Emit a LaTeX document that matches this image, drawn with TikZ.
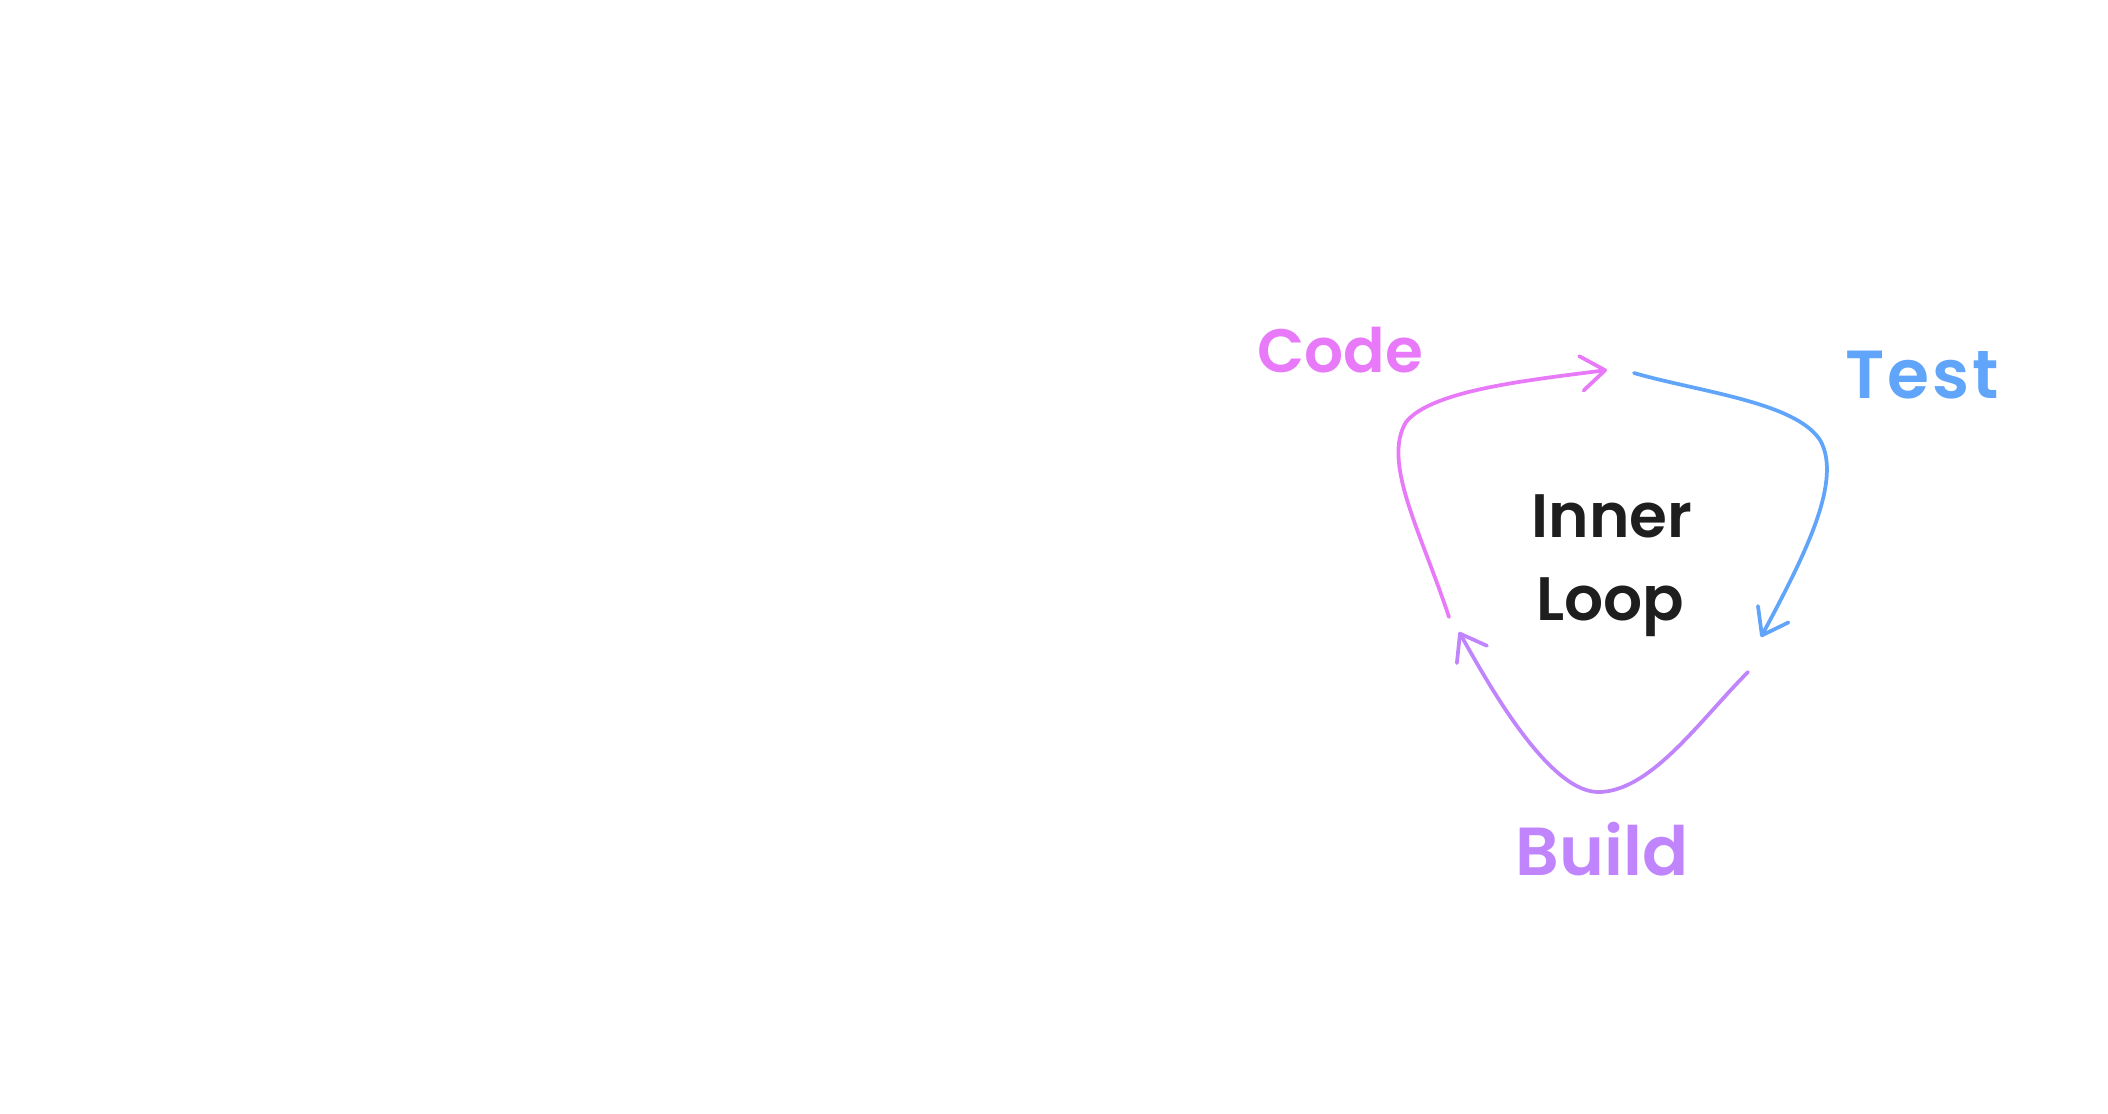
\documentclass[tikz,border=0pt]{standalone}
\usepackage{fontspec}
\setmainfont{Poppins}[BoldFont={Poppins SemiBold}]
\usetikzlibrary{arrows.meta}
\definecolor{cpink}{HTML}{E879F9}
\definecolor{cblue}{HTML}{60A5FA}
\definecolor{cpurple}{HTML}{C084FC}
\definecolor{cink}{HTML}{1E1E1E}
\tikzset{
  lbl/.style={inner sep=0pt, anchor=base, font=\fontsize{46}{56}\selectfont\bfseries},
  biglbl/.style={lbl, font=\fontsize{51}{60}\selectfont\bfseries},
  flow/.style={line width=2.8pt, line cap=round, line join=round,
    -{Straight Barb[length=18pt,width=26pt,round]}}
}
\begin{document}
\begin{tikzpicture}[x=0.75pt,y=-0.75pt]
\useasboundingbox (0,0) rectangle (2108,1113);
% labels
\node[lbl, text=cpink] (code) at (1340,372) {Code};
\node[biglbl, text=cblue] (test) at (1922,398) {\addfontfeature{LetterSpace=4}Test};
\node[biglbl, text=cpurple] (build) at (1602,875) {Build};
\node[lbl, text=cink] (inner) at (1612,537) {Inner};
\node[lbl, text=cink] (loop) at (1610,620) {Loop};
% connector ends
\coordinate (cs) at (1449,617);
\coordinate (ct) at (1607,370);
\coordinate (ts) at (1634,373);
\coordinate (tt) at (1761,637);
\coordinate (bs) at (1748,672);
\coordinate (bm) at (1597,792);
\coordinate (bt) at (1459,632);
% connectors
\draw[flow, cpink] (cs) .. controls (1420,530) and (1382,462) .. (1406,422)
  .. controls (1432,390) and (1530,380) .. (ct);
\draw[flow, cblue] (ts) .. controls (1700,392) and (1795,402) .. (1820,440)
  .. controls (1843,480) and (1805,555) .. (tt);
\draw[flow, cpurple] (bs) .. controls (1700,720) and (1650,793) .. (bm)
  .. controls (1545,790) and (1482,672) .. (bt);
\end{tikzpicture}
\end{document}
